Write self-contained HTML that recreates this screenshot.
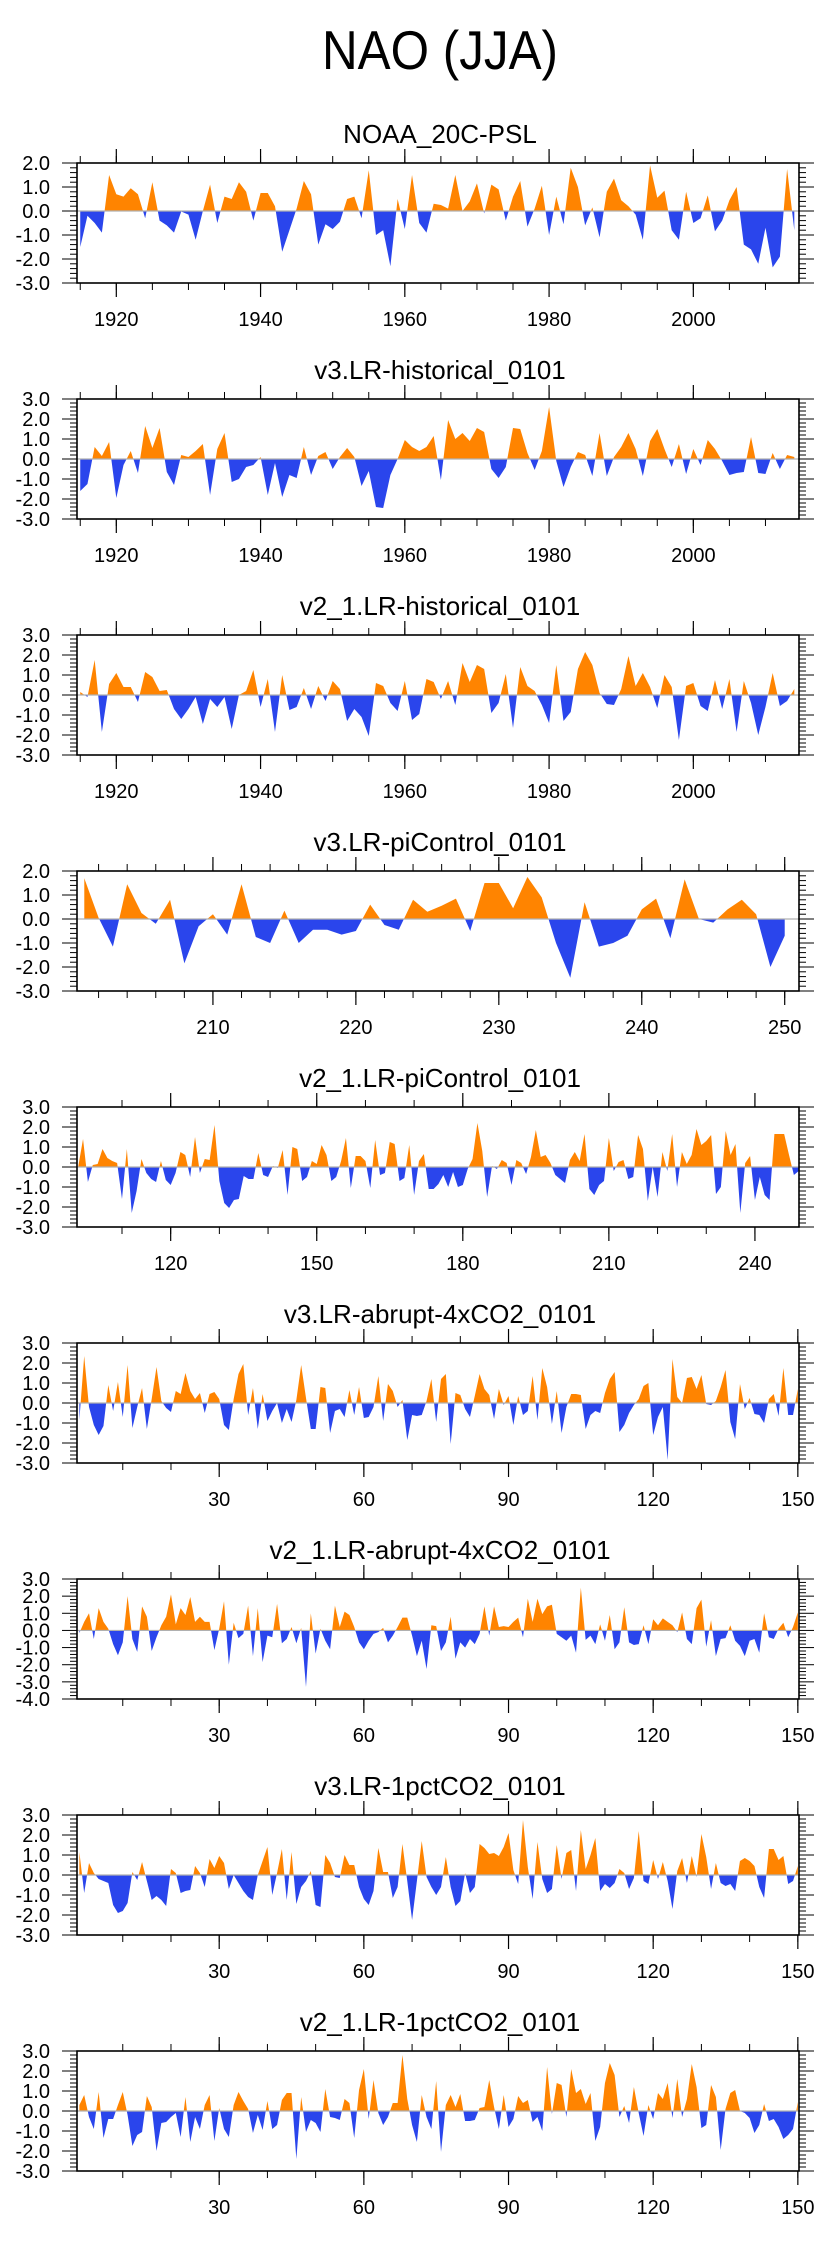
<!DOCTYPE html>
<html><head><meta charset="utf-8"><style>
html,body{margin:0;padding:0;background:#fff;}
svg{display:block;font-family:"Liberation Sans",Arial,sans-serif;}
</style></head><body>
<svg id="fig" width="829" height="2245" viewBox="0 0 829 2245" xmlns="http://www.w3.org/2000/svg">
<text x="440" y="69" font-size="55" text-anchor="middle" fill="#000" textLength="236" lengthAdjust="spacingAndGlyphs">NAO (JJA)</text>
</svg>
<script>
const p1Values=[-1.5,-0.2,-0.5,-0.9,1.5,0.7,0.6,0.95,0.7,-0.3,1.2,-0.4,-0.6,-0.9,-0.02,-0.15,-1.2,0.0,1.1,-0.5,0.6,0.5,1.2,0.8,-0.4,0.75,0.75,0.2,-1.7,-0.8,0.1,1.25,0.7,-1.4,-0.55,-0.75,-0.45,0.5,0.6,-0.3,1.7,-1.0,-0.8,-2.3,0.5,-0.75,1.5,-0.5,-0.9,0.3,0.25,0.1,1.5,0.0,0.4,1.15,-0.1,1.1,0.9,-0.4,0.6,1.25,-0.65,0.1,1.05,-1.0,0.6,-0.55,1.8,1.0,-0.6,0.15,-1.1,0.8,1.35,0.45,0.2,-0.15,-1.2,1.9,0.55,0.85,-0.8,-1.2,0.8,-0.5,-0.3,0.65,-0.85,-0.4,0.45,1.0,-1.4,-1.6,-2.2,-0.7,-2.35,-1.9,1.75,-0.8];
const p2Values=[-1.6,-1.25,0.6,0.15,0.85,-1.95,-0.3,0.4,-0.7,1.65,0.55,1.55,-0.65,-1.3,0.2,0.1,0.4,0.75,-1.8,0.5,1.3,-1.15,-1.0,-0.4,-0.3,0.1,-1.8,-0.2,-1.9,-0.8,-0.95,0.6,-0.8,0.15,0.35,-0.5,0.1,0.55,0.1,-1.35,-0.6,-2.4,-2.45,-0.8,0.0,0.95,0.6,0.4,0.6,1.15,-1.05,1.95,1.0,1.3,0.9,1.55,1.35,-0.5,-0.95,-0.4,1.55,1.5,0.3,-0.55,0.4,2.6,-0.1,-1.4,-0.4,0.35,0.2,-0.85,1.3,-0.85,0.1,0.6,1.3,0.5,-0.85,0.9,1.5,0.5,-0.4,0.75,-0.75,0.5,-0.3,0.95,0.5,-0.1,-0.8,-0.7,-0.65,1.1,-0.7,-0.75,0.3,-0.5,0.2,0.1];
const p3Values=[0.15,-0.1,1.75,-1.85,0.55,1.1,0.4,0.4,-0.35,1.15,0.9,0.2,0.25,-0.7,-1.2,-0.7,-0.1,-1.45,-0.2,-0.6,-0.1,-1.7,0.0,0.2,1.25,-0.6,0.8,-1.85,1.0,-0.75,-0.6,0.35,-0.7,0.45,-0.3,0.7,0.3,-1.3,-0.7,-1.1,-2.05,0.6,0.45,-0.4,-0.8,0.7,-1.25,-0.95,0.8,0.65,-0.2,0.7,-0.5,1.6,0.65,1.5,1.3,-0.9,-0.4,1.05,-1.65,1.4,0.45,0.2,-0.5,-1.4,1.5,-1.3,-0.85,1.3,2.15,1.5,0.1,-0.45,-0.5,0.3,1.95,0.45,1.1,0.4,-0.65,1.0,0.4,-2.25,0.45,0.6,-0.55,-0.8,0.75,-0.7,0.8,-1.85,0.7,-0.4,-2.0,-0.6,1.1,-0.55,-0.3,0.3];
const p4Values=[1.7,0.05,-1.15,1.45,0.25,-0.2,0.8,-1.85,-0.3,0.2,-0.65,1.45,-0.75,-1.0,0.35,-1.0,-0.45,-0.45,-0.65,-0.5,0.6,-0.25,-0.45,0.8,0.3,0.55,0.85,-0.5,1.5,1.5,0.45,1.75,0.9,-1.0,-2.45,0.7,-1.15,-1.0,-0.7,0.4,0.85,-0.8,1.65,0.0,-0.15,0.4,0.8,0.2,-2.0,-0.7];
const p5Values=[0.0,1.4,-0.75,0.1,0.15,0.9,0.45,0.3,0.2,-1.6,0.9,-2.3,-1.2,0.4,-0.3,-0.6,-0.75,0.3,-0.65,-0.9,-0.3,0.75,0.6,-0.5,1.5,-0.3,0.4,0.35,2.1,-0.7,-1.8,-2.05,-1.65,-1.6,-0.45,-0.6,-0.6,0.7,-0.4,-0.5,0.05,-0.05,0.85,-1.4,1.0,0.9,-0.7,-0.5,0.3,0.15,1.1,0.6,-0.7,-0.5,0.3,1.45,-1.05,0.55,0.55,0.3,-1.05,1.35,-0.4,-0.3,1.25,1.15,-0.7,-0.55,1.1,-1.4,0.3,0.65,-1.1,-1.1,-0.85,-0.4,-1.0,-0.25,-1.0,-0.9,-0.1,0.4,2.2,0.8,-1.5,0.05,-0.1,0.35,0.2,-0.9,0.35,0.2,-0.35,0.5,1.85,0.5,0.6,0.2,-0.4,-0.6,-0.8,0.35,0.75,0.3,1.65,-1.1,-1.4,-0.9,-0.7,1.45,-0.2,0.25,0.35,-0.6,-0.5,1.6,0.9,-1.7,0.0,-1.5,0.75,-0.2,1.65,-1.0,0.75,0.15,0.6,1.9,1.1,1.3,1.6,-1.35,-1.0,1.8,0.6,1.15,-2.3,0.2,0.55,-1.65,-0.5,-1.4,-1.65,1.65,1.65,1.65,0.6,-0.4,-0.2];
const p6Values=[-0.85,2.35,-0.2,-1.1,-1.6,-1.15,0.9,-0.4,1.05,-0.7,1.9,-1.25,-0.2,0.75,-1.3,0.2,1.8,0.1,-0.25,-0.45,0.6,0.45,1.5,0.6,0.2,0.5,-0.5,0.45,0.55,0.2,-1.1,-1.35,0.2,1.45,1.95,-0.6,0.75,-1.3,0.45,-0.9,-0.4,0.0,-1.0,-0.3,-0.95,0.15,1.9,0.25,-1.3,-1.3,0.8,0.75,-1.5,-0.4,-0.3,-0.7,0.65,-0.6,0.8,-0.75,-0.7,-0.2,1.35,-0.9,0.95,0.6,-0.2,0.15,-1.85,-0.6,-0.65,-0.6,0.1,1.2,-0.95,1.2,1.45,-2.05,0.5,0.4,-0.3,-0.7,0.35,1.45,0.7,0.4,-0.8,0.7,-0.1,0.35,-1.1,0.35,-0.6,-0.4,1.35,-0.85,1.75,0.8,-1.05,0.6,-1.5,-0.2,0.45,0.45,0.4,-1.3,-0.6,-0.4,-0.5,0.5,1.2,1.55,-1.45,-1.1,-0.5,-0.1,0.2,0.85,1.0,-1.6,-0.7,-0.2,-2.85,2.2,0.3,0.0,1.25,1.3,0.7,1.4,-0.05,-0.1,0.1,0.8,1.65,-0.95,-1.8,0.95,-0.3,0.25,-0.55,-0.6,-1.0,0.2,0.45,-0.65,1.75,-0.6,-0.6,0.7];
const p7Values=[-0.15,0.5,1.0,-0.5,1.3,0.5,0.1,-0.8,-1.45,-0.7,2.0,-0.5,-1.25,1.4,0.8,-1.2,-0.4,0.3,0.8,2.1,0.35,1.3,0.9,1.95,0.5,0.8,0.5,0.5,-1.15,0.1,1.7,-2.0,0.45,-0.45,-0.2,1.45,-1.5,1.3,-1.85,-0.3,-0.4,1.55,-0.75,-0.5,0.2,-0.75,0.15,-3.3,1.0,-1.35,0.1,-0.6,-1.1,1.45,0.2,1.1,0.9,0.2,-0.7,-1.1,-0.6,-0.2,-0.1,0.15,-0.7,-0.3,0.2,0.75,0.75,-0.3,-1.5,-0.6,-2.25,0.3,0.25,-1.2,-0.7,0.8,-1.65,-0.7,-1.0,-0.5,-0.8,-0.2,1.4,-0.3,1.4,0.2,0.25,0.2,0.5,0.75,-0.4,1.85,0.5,1.85,0.95,1.4,1.5,-0.2,-0.4,-0.6,-0.3,-1.3,2.5,-0.55,-0.3,-0.8,0.35,-0.6,0.9,-1.1,-0.7,1.35,-0.7,-0.85,-0.8,0.3,-0.8,0.65,0.3,0.7,0.5,0.3,-0.1,1.05,-0.5,-0.8,1.3,1.8,-0.95,0.6,-1.5,-0.5,-0.45,0.3,-0.6,-0.9,-1.5,-0.6,-0.5,-1.3,1.0,-0.4,-0.5,0.1,0.45,-0.4,0.2,1.05];
const p8Values=[1.15,-0.9,0.6,0.1,-0.2,-0.3,-0.4,-1.5,-1.9,-1.8,-1.4,0.15,-0.25,0.65,-0.3,-1.25,-1.05,-1.25,-1.55,0.3,0.1,-0.9,-0.8,-0.75,0.45,0.1,-0.6,0.8,0.35,0.95,0.6,-0.7,0.0,-0.4,-0.8,-1.1,-1.25,0.0,0.7,1.4,-1.0,0.1,1.3,-1.25,1.15,-1.45,-0.6,-0.3,0.2,-1.5,-1.6,1.0,0.6,-0.1,-0.15,1.0,0.5,0.5,-0.6,-1.2,-1.5,-0.8,1.35,0.15,0.15,-1.15,-0.6,1.55,-0.3,-2.25,-0.3,1.7,-0.1,-0.6,-1.0,-0.6,0.9,-0.6,-1.55,-1.3,0.1,-0.9,-0.6,1.55,1.35,1.05,1.1,0.95,1.4,2.1,0.25,-0.45,2.75,0.4,-1.2,1.65,-0.2,-0.9,-0.7,1.5,-0.2,1.1,1.25,-0.8,2.25,0.3,1.0,1.85,-0.8,-0.45,-0.65,-0.4,0.3,0.1,-0.7,-0.15,2.2,-0.3,-0.45,0.75,-0.2,0.65,-0.3,-1.7,0.2,0.85,-0.4,0.95,-0.1,2.05,0.9,-0.7,0.6,-0.4,-0.55,-0.45,-0.8,0.7,0.85,0.7,0.45,-0.6,-1.15,1.3,1.3,0.75,0.95,-0.45,-0.3,0.45];
const p9Values=[0.3,0.8,-0.3,-0.9,0.95,-1.35,-0.4,-0.4,0.3,0.95,-0.2,-1.75,-1.2,-1.05,0.75,0.2,-2.0,-0.6,-0.55,-0.3,-0.1,-1.3,0.7,-1.55,-0.3,-0.9,0.3,0.8,-1.5,0.15,-0.9,-1.3,0.3,0.95,0.5,0.1,-1.1,-0.2,-0.95,0.5,-0.9,-0.7,0.55,0.9,0.9,-2.4,0.7,-1.05,-0.45,-0.6,-1.05,1.1,-0.3,-0.35,-0.45,0.6,0.4,-1.35,1.05,2.1,-0.4,1.55,-0.1,-0.7,-0.3,0.4,0.4,2.8,0.6,-0.7,-1.55,0.8,-0.3,-0.9,1.5,-2.05,0.3,0.8,0.2,0.85,-0.5,-0.5,-0.45,0.15,0.2,1.55,0.2,-0.9,0.8,-0.8,-0.4,0.75,0.4,0.55,-0.55,-0.3,-1.0,2.2,-0.15,1.4,1.3,-0.3,2.1,0.9,1.1,0.35,0.9,-1.5,-0.8,1.4,2.4,1.8,-0.3,0.25,-0.6,1.2,-0.1,-1.25,0.3,-0.4,0.9,0.6,1.4,-0.35,1.6,-0.3,0.6,2.35,1.2,-0.85,-0.7,1.3,0.7,-1.95,0.1,0.9,1.05,0.0,-0.1,-0.35,-1.1,-0.7,0.35,-0.5,-0.4,-0.8,-1.4,-1.2,-0.9,0.45];

const panelTitles=["NOAA_20C-PSL","v3.LR-historical_0101","v2_1.LR-historical_0101","v3.LR-piControl_0101","v2_1.LR-piControl_0101","v3.LR-abrupt-4xCO2_0101","v2_1.LR-abrupt-4xCO2_0101","v3.LR-1pctCO2_0101","v2_1.LR-1pctCO2_0101"];
const panelStarts=[1915,1915,1915,201,101,1,1,1,1];
const panelYMin=[-3,-3,-3,-3,-3,-3,-4,-3,-3];
const panelYMax=[2,3,3,2,3,3,3,3,3];

const NS="http://www.w3.org/2000/svg";
const svg=document.getElementById('fig');
const allValues=[p1Values,p2Values,p3Values,p4Values,p5Values,p6Values,p7Values,p8Values,p9Values];
const axCfg=[
 {xmin:1914.55,xmax:2014.65,maj:[1920,2000,20],min:[1915,2015,5]},
 {xmin:1914.55,xmax:2014.65,maj:[1920,2000,20],min:[1915,2015,5]},
 {xmin:1914.55,xmax:2014.65,maj:[1920,2000,20],min:[1915,2015,5]},
 {xmin:200.49,xmax:251.0,maj:[210,250,10],min:[202,250,2]},
 {xmin:100.76,xmax:249.05,maj:[120,240,30],min:[110,249,10]},
 {xmin:0.51,xmax:150.24,maj:[30,150,30],min:[10,150,10]},
 {xmin:0.51,xmax:150.24,maj:[30,150,30],min:[10,150,10]},
 {xmin:0.51,xmax:150.24,maj:[30,150,30],min:[10,150,10]},
 {xmin:0.51,xmax:150.24,maj:[30,150,30],min:[10,150,10]}
];
const L=77,R=799,H=120;
function mk(tag,attrs,parent){const e=document.createElementNS(NS,tag);for(const k in attrs)e.setAttribute(k,attrs[k]);(parent||svg).appendChild(e);return e;}

for(let p=0;p<9;p++){
  const top=163+236*p, bot=top+H;
  const vals=allValues[p], cfg=axCfg[p], y0=panelYMin[p], y1=panelYMax[p];
  const xs=x=>L+(x-cfg.xmin)/(cfg.xmax-cfg.xmin)*(R-L);
  const ys=v=>bot-(v-y0)/(y1-y0)*H;
  const g=mk('g',{});
  
  
  const t=mk('text',{x:440,y:top-20,'font-size':26,'text-anchor':'middle',fill:'#000'},g);
  
  
  t.textContent=panelTitles[p];
  const zy=ys(0);
  let d='M'+xs(panelStarts[p]).toFixed(2)+','+zy.toFixed(2);
  vals.forEach((v,i)=>{d+='L'+xs(panelStarts[p]+i).toFixed(2)+','+ys(v).toFixed(2);});
  d+='L'+xs(panelStarts[p]+vals.length-1).toFixed(2)+','+zy.toFixed(2)+'Z';
  const cpA=mk('clipPath',{id:'ca'+p},g); mk('rect',{x:L,y:top,width:R-L,height:zy-top},cpA);
  const cpB=mk('clipPath',{id:'cb'+p},g); mk('rect',{x:L,y:zy,width:R-L,height:bot-zy},cpB);
  const pa=mk('path',{d:d,fill:'#ff8400','clip-path':'url(#ca'+p+')'},g);
  
  
  const pb=mk('path',{d:d,fill:'#2a45ec','clip-path':'url(#cb'+p+')'},g);
  
  
  const zl=mk('line',{x1:L,x2:R,y1:zy,y2:zy,stroke:'#b0b0b0','stroke-width':1.2},g);
  
  
  const fr=mk('rect',{x:L,y:top,width:R-L,height:H,fill:'none',stroke:'#000','stroke-width':1.6},g);
  
  
  for(let v=y0; v<=y1+1e-6; v+=0.2){
    const yy=ys(v); const major=Math.abs(v-Math.round(v))<1e-6; const len=major?15:7;
    mk('line',{x1:L-len,x2:L,y1:yy,y2:yy,stroke:'#000','stroke-width':1},g);
    mk('line',{x1:R,x2:R+len,y1:yy,y2:yy,stroke:'#000','stroke-width':1},g);
    if(major){
      const lb=mk('text',{x:50,y:yy+7,'font-size':20,'text-anchor':'end',fill:'#000'},g);
      
      
      lb.textContent=Math.round(v).toFixed(1);
    }
  }
  for(let v=cfg.min[0]; v<=cfg.min[1]; v+=cfg.min[2]){
    const xx=xs(v); if(xx<L-0.5||xx>R+0.5) continue;
    mk('line',{x1:xx,x2:xx,y1:top-7,y2:top,stroke:'#000','stroke-width':1},g);
    mk('line',{x1:xx,x2:xx,y1:bot,y2:bot+7,stroke:'#000','stroke-width':1},g);
  }
  for(let v=cfg.maj[0]; v<=cfg.maj[1]; v+=cfg.maj[2]){
    const xx=xs(v);
    mk('line',{x1:xx,x2:xx,y1:top-14,y2:top,stroke:'#000','stroke-width':1.2},g);
    mk('line',{x1:xx,x2:xx,y1:bot,y2:bot+14,stroke:'#000','stroke-width':1.2},g);
    const lb=mk('text',{x:xx,y:bot+43,'font-size':20,'text-anchor':'middle',fill:'#000'},g);
    
    
    lb.textContent=String(v);
  }
}
</script>
</body></html>
